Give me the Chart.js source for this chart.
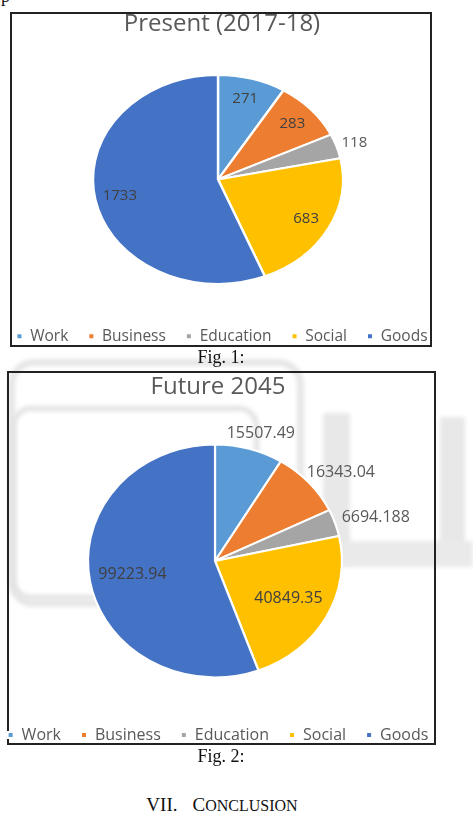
<!DOCTYPE html>
<html>
<head>
<meta charset="utf-8">
<script src="https://cdn.jsdelivr.net/npm/chart.js@4.4.1/dist/chart.umd.min.js"></script>
<style>
  html, body { margin: 0; padding: 0; background: #fff; }
  body { width: 473px; height: 817px; position: relative; overflow: hidden; }
  .abs { position: absolute; }
  .box { position: absolute; border: 2px solid #222; box-sizing: border-box; }
  .wm { position: absolute; filter: blur(2px); }
  .cap { position: absolute; font-family: 'Liberation Serif', 'Times New Roman', serif; color: #111; font-size: 18px; text-align: center; width: 442px; left: 0; white-space: nowrap; }
  canvas { position: absolute; }
</style>
</head>
<body>
<!-- faint background watermark -->
<div class="wm" style="left:8px;top:359px;width:296px;height:248px;border:7px solid #e6e6e6;border-radius:26px;box-sizing:border-box;"></div>
<div class="wm" style="left:11px;top:406px;width:248px;height:194px;border:5px solid #e2e2e2;border-radius:20px;box-sizing:border-box;"></div>
<div class="wm" style="left:323px;top:413px;width:27px;height:152px;background:#e8e8e8;"></div>
<div class="wm" style="left:440px;top:417px;width:25px;height:130px;background:#e8e8e8;"></div>
<div class="wm" style="left:323px;top:541px;width:150px;height:26px;background:#eaeaea;"></div>

<div class="abs" style="left:1px;top:-14px;font-family:'Liberation Serif',serif;font-size:18px;color:#111;">p</div>

<div class="box" style="left:10px;top:12px;width:422px;height:335px;"></div>
<div class="box" style="left:7px;top:371px;width:429px;height:374px;"></div>

<canvas id="c1" style="left:-18px;top:0px;width:480px;height:354px;" width="480" height="354"></canvas>
<canvas id="c2" style="left:-22px;top:362px;width:480px;height:391px;" width="480" height="391"></canvas>

<div class="cap" style="top:347px;">Fig. 1:</div>
<div class="cap" style="top:746px;">Fig. 2:</div>
<div class="cap" style="top:794px;font-size:19px;width:444px;"><span>VII.</span><span style="margin-left:15px;">C</span><span style="font-size:16px;">ONCLUSION</span></div>

<script>
// ---- data ----
const categories = ['Work', 'Business', 'Education', 'Social', 'Goods'];
const presentValues = [271, 283, 118, 683, 1733];
const futureValues = [15507.49, 16343.04, 6694.188, 40849.35, 99223.94];
const presentTitle = 'Present (2017-18)';
const futureTitle = 'Future 2045';

// ---- styles ----
const palette = ['#5B9BD5', '#ED7D31', '#A5A5A5', '#FFC000', '#4472C4'];

Chart.defaults.font.family = "'Open Sans', 'Noto Sans', sans-serif";
Chart.defaults.color = '#595959';

// stretch the pie into an ellipse (horizontal scale about the pie centre) with a small horizontal shift
const ellipsePlugin = {
  id: 'ellipse',
  beforeDatasetsDraw(chart, args, opts) {
    const el = chart.getDatasetMeta(0).data[0];
    const ctx = chart.ctx;
    ctx.save();
    ctx.translate(el.x + (opts.dx || 0), el.y);
    ctx.scale(opts.sx || 1, 1);
    ctx.translate(-el.x, -el.y);
  },
  afterDatasetsDraw(chart) { chart.ctx.restore(); }
};

// slice value labels
const sliceLabels = {
  id: 'sliceLabels',
  afterDatasetsDraw(chart, args, opts) {
    const ctx = chart.ctx;
    const meta = chart.getDatasetMeta(0);
    const values = chart.data.datasets[0].data;
    const ell = chart.options.plugins.ellipse || {};
    const sx = ell.sx || 1, shift = ell.dx || 0;
    ctx.save();
    ctx.font = opts.fontSize + "px 'Open Sans', sans-serif";
    ctx.textAlign = 'center';
    ctx.textBaseline = 'middle';
    meta.data.forEach((arc, i) => {
      const mid = (arc.startAngle + arc.endAngle) / 2;
      const dx = Math.cos(mid), dy = Math.sin(mid);
      const R = arc.outerRadius;
      const cx = arc.x + shift;
      const txt = String(values[i]);
      let x, y;
      if (opts.outside.includes(i)) {
        const w = ctx.measureText(txt).width;
        const h = opts.fontSize * 0.8;
        const px = cx + dx * (R * sx + opts.gap);
        const py = arc.y + dy * (R + opts.gap);
        x = px + dx * w / 2;
        y = py + dy * h / 2;
        ctx.fillStyle = '#595959';
      } else {
        x = cx + dx * R * sx * opts.inside;
        y = arc.y + dy * R * opts.inside;
        ctx.fillStyle = '#404040';
      }
      ctx.fillText(txt, x, y);
    });
    ctx.restore();
  }
};

function makePie(id, title, values, cfg) {
  return new Chart(document.getElementById(id), {
    type: 'pie',
    data: {
      labels: categories,
      datasets: [{
        data: values,
        backgroundColor: palette,
        borderColor: '#ffffff',
        borderWidth: 2
      }]
    },
    options: {
      responsive: false,
      animation: false,
      events: [],
      radius: cfg.radius,
      layout: { padding: 0 },
      plugins: {
        title: {
          display: true,
          text: title,
          color: '#595959',
          font: { size: 24, weight: 'normal' },
          padding: { top: cfg.titleTop, bottom: cfg.titleBottom }
        },
        legend: {
          position: 'bottom',
          labels: {
            boxWidth: 6,
            boxHeight: 6,
            padding: 20,
            color: '#595959',
            font: { size: cfg.legendSize }
          }
        },
        tooltip: { enabled: false },
        ellipse: { sx: cfg.sx, dx: cfg.shift },
        sliceLabels: { outside: cfg.outside, inside: cfg.inside, gap: cfg.gap, fontSize: cfg.labelSize }
      }
    },
    plugins: [ellipsePlugin, sliceLabels]
  });
}

makePie('c1', presentTitle, presentValues, {
  radius: 104.5, sx: 1.196, shift: -4, titleTop: 10, titleBottom: 11.5,
  legendSize: 15.5, outside: [2], inside: 0.8, labelSize: 15, gap: 6
});
makePie('c2', futureTitle, futureValues, {
  radius: 116.5, sx: 1.09, shift: -3, titleTop: 11, titleBottom: 13,
  legendSize: 16, outside: [0, 1, 2], inside: 0.66, labelSize: 16, gap: 9
});
</script>
</body>
</html>
